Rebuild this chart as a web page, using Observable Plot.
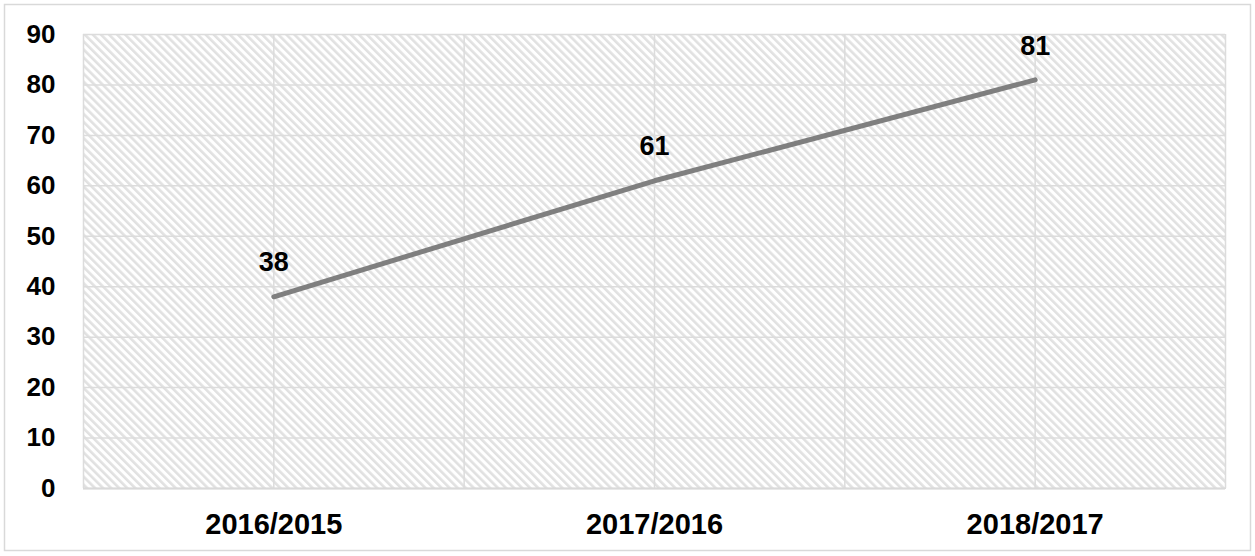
<!DOCTYPE html>
<html>
<head>
<meta charset="utf-8">
<script src="https://cdn.jsdelivr.net/npm/d3@7"></script>
<script src="https://cdn.jsdelivr.net/npm/@observablehq/plot@0.6"></script>
<style>
  html, body { margin: 0; padding: 0; background: #fff; }
  #chart { position: relative; width: 1255px; height: 556px; }
  #chart svg { display: block; }
</style>
</head>
<body>
<div id="chart"></div>
<script>
const categories = ["2016/2015", "2017/2016", "2018/2017"];
const values = [38, 61, 81];
const yTicks = [0, 10, 20, 30, 40, 50, 60, 70, 80, 90];

const data = categories.map((c, i) => ({cat: c, pos: i + 0.5, value: values[i]}));
const xGrid = d3.range(0, categories.length + 0.01, 0.5);

const font = "'Liberation Sans', Arial, sans-serif";

const chart = Plot.plot({
  width: 1255,
  height: 556,
  marginLeft: 83,
  marginRight: 30,
  marginTop: 34,
  marginBottom: 68,
  style: {fontFamily: font, background: "#fff", overflow: "visible"},
  x: {type: "linear", domain: [0, categories.length]},
  y: {domain: [0, 90]},
  marks: [
    Plot.frame({fill: "url(#hatch)", stroke: "#d9d9d9", strokeWidth: 1}),
    Plot.gridY(yTicks, {stroke: "#dcdcdc", strokeOpacity: 1, strokeWidth: 1.5}),
    Plot.gridX(xGrid, {stroke: "#dcdcdc", strokeOpacity: 1, strokeWidth: 1.5}),
    Plot.ruleY([0], {stroke: "#d9d9d9", strokeWidth: 2}),
    Plot.axisY(yTicks, {tickSize: 0, tickPadding: 28, fontSize: 26, fontWeight: "bold", fill: "#000", label: null}),
    Plot.axisX(data.map(d => d.pos), {tickSize: 0, tickPadding: 25, fontSize: 29, fontWeight: "bold", fill: "#000", label: null,
      tickFormat: (d) => categories[Math.floor(d)]}),
    Plot.line(data, {x: "pos", y: "value", stroke: "#7f7f7f", strokeWidth: 5, strokeLinecap: "round"}),
    Plot.text(data, {x: "pos", y: "value", text: d => String(d.value), dy: -34, fontSize: 27, fontWeight: "bold", fill: "#000"})
  ]
});

const svg = d3.select(chart);
const defs = svg.insert("defs", ":first-child");
const pat = defs.append("pattern")
  .attr("id", "hatch")
  .attr("patternUnits", "userSpaceOnUse")
  .attr("width", 5.7)
  .attr("height", 5.7)
  .attr("patternTransform", "rotate(-45)");
pat.append("rect").attr("width", 5.7).attr("height", 5.7).attr("fill", "#ffffff");
pat.append("rect").attr("width", 2.6).attr("height", 5.7).attr("fill", "#e1e1e1");

// outer chart border
svg.append("rect")
  .attr("x", 4.5).attr("y", 4.5)
  .attr("width", 1246).attr("height", 546)
  .attr("fill", "none").attr("stroke", "#d9d9d9").attr("stroke-width", 1.5);

document.getElementById("chart").appendChild(chart);
</script>
</body>
</html>
